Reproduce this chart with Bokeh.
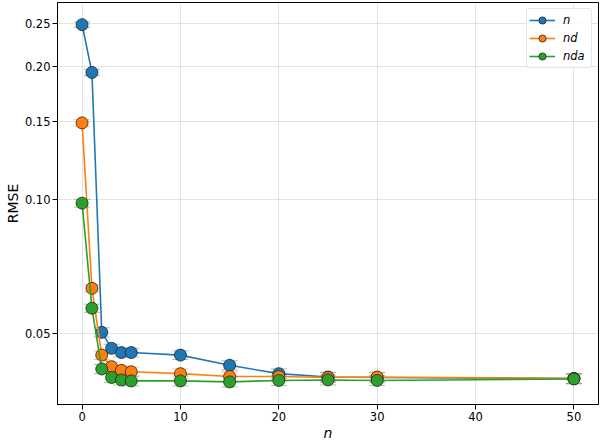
from bokeh.plotting import figure
from bokeh.models import (Range1d, FixedTicker, PrintfTickFormatter, Whisker,
                          ColumnDataSource, Legend, LegendItem, TeeHead)
from bokeh.embed import file_html
from bokeh.resources import INLINE

# data
n_values = [0, 1, 2, 3, 4, 5, 10, 15, 20, 25, 30, 50]
rmse_n = [0.248, 0.1936, 0.0503, 0.0463, 0.0453, 0.0453, 0.0447, 0.0424, 0.0406, 0.0399, 0.0398, 0.0396]
err_n = [0.0035, 0.003, 0.0012, 0.001, 0.001, 0.001, 0.001, 0.001, 0.001, 0.001, 0.001, 0.001]
rmse_nd = [0.149, 0.0632, 0.0447, 0.0421, 0.0413, 0.0410, 0.0406, 0.0400, 0.0400, 0.0398, 0.0399, 0.0396]
err_nd = [0.0025, 0.0012, 0.001, 0.001, 0.001, 0.001, 0.001, 0.001, 0.001, 0.001, 0.001, 0.001]
rmse_nda = [0.0983, 0.0570, 0.0416, 0.0398, 0.0393, 0.0391, 0.0391, 0.0389, 0.0392, 0.0393, 0.0392, 0.0395]
err_nda = [0.002, 0.0012, 0.001, 0.001, 0.001, 0.001, 0.001, 0.001, 0.001, 0.001, 0.001, 0.001]
labels = ["n", "nd", "nda"]
colors = ["#1f77b4", "#ff7f0e", "#2ca02c"]
x_ticks = [0, 10, 20, 30, 40, 50]
y_ticks = [0.05, 0.10, 0.15, 0.20, 0.25]

FONT = "DejaVu Sans"

p = figure(width=600, height=443, y_axis_type="log",
           x_range=Range1d(-2.5, 52.5), y_range=Range1d(0.0346, 0.2782),
           output_backend="svg", toolbar_location=None,
           min_border_left=57, min_border_right=2, min_border_top=2, min_border_bottom=39)

p.outline_line_color = "black"
p.outline_line_width = 1
p.background_fill_color = "white"
p.border_fill_color = "white"

for ax in (p.xaxis[0], p.yaxis[0]):
    ax.major_label_text_font = FONT
    ax.major_label_text_font_size = "11.5px"
    ax.major_label_text_color = "black"
    ax.axis_label_text_font = FONT
    ax.axis_label_text_font_size = "14px"
    ax.axis_label_text_color = "black"
    ax.axis_line_color = "black"
    ax.major_tick_line_color = "black"
    ax.major_tick_out = 5
    ax.major_tick_in = 0
    ax.minor_tick_out = 0
    ax.minor_tick_in = 0
    ax.minor_tick_line_color = None
    ax.major_label_standoff = 2

p.xaxis[0].ticker = FixedTicker(ticks=x_ticks)
p.yaxis[0].ticker = FixedTicker(ticks=y_ticks)
p.yaxis[0].formatter = PrintfTickFormatter(format="%.2f")
p.xaxis[0].axis_label = "n"
p.xaxis[0].axis_label_text_font_style = "italic"
p.xaxis[0].axis_label_standoff = 1
p.yaxis[0].axis_label = "RMSE"
p.yaxis[0].axis_label_text_font_style = "normal"
p.yaxis[0].axis_label_standoff = 1

p.xgrid.grid_line_color = "#b0b0b0"
p.ygrid.grid_line_color = "#b0b0b0"
p.xgrid.grid_line_alpha = 0.45
p.ygrid.grid_line_alpha = 0.45
p.xgrid.grid_line_width = 0.8
p.ygrid.grid_line_width = 0.8

items = []
for lab, ys, es, c in zip(labels, [rmse_n, rmse_nd, rmse_nda], [err_n, err_nd, err_nda], colors):
    src = ColumnDataSource(dict(x=n_values, y=ys,
                                lo=[a - b for a, b in zip(ys, es)],
                                hi=[a + b for a, b in zip(ys, es)]))
    w = Whisker(source=src, base="x", upper="hi", lower="lo",
                line_color=c, line_alpha=0.5, line_width=1,
                upper_head=TeeHead(size=16, line_color=c, line_alpha=0.5, line_width=1),
                lower_head=TeeHead(size=16, line_color=c, line_alpha=0.5, line_width=1))
    p.add_layout(w)
    r_line = p.line("x", "y", source=src, line_color=c, line_width=1.6)
    r_pt = p.scatter("x", "y", source=src, size=12, fill_color=c,
                     line_color="#222222", line_width=0.8)
    items.append(LegendItem(label=lab, renderers=[r_line, r_pt]))

legend = Legend(items=items, location="top_right")
legend.label_text_font = FONT
legend.label_text_font_size = "11.5px"
legend.label_text_font_style = "italic"
legend.label_text_color = "black"
legend.glyph_width = 26
legend.glyph_height = 18
legend.label_height = 18
legend.spacing = 0
legend.padding = 2
legend.margin = 6
legend.label_standoff = 8
legend.label_width = 26
legend.border_line_color = "#cccccc"
legend.border_line_width = 1
legend.background_fill_alpha = 0.8
legend.border_radius = 3
p.add_layout(legend)

open("out.html", "w").write(file_html(p, INLINE))
